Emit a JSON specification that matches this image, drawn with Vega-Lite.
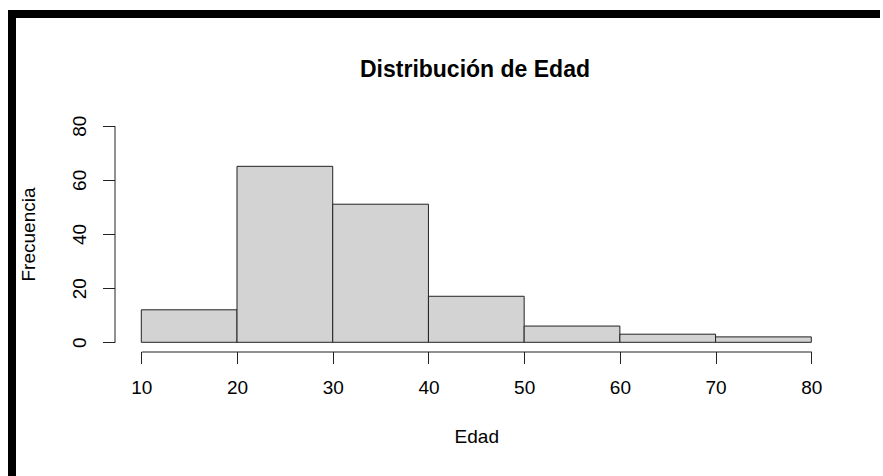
{
  "$schema": "https://vega.github.io/schema/vega-lite/v6.json",
  "autosize": {"type": "none"},
  "padding": {"left": 12, "top": 14, "right": 0, "bottom": 0},
  "width": 871,
  "height": 462,
  "background": "white",
  "title": {
    "text": "Distribución de Edad",
    "font": "Liberation Sans",
    "fontSize": 23,
    "fontWeight": "bold",
    "color": "black",
    "anchor": "middle",
    "offset": 0,
    "dx": 27.5,
    "dy": 68
  },
  "data": {
    "values": [
      {"desde": 10, "hasta": 20, "frecuencia": 12},
      {"desde": 20, "hasta": 30, "frecuencia": 65},
      {"desde": 30, "hasta": 40, "frecuencia": 51},
      {"desde": 40, "hasta": 50, "frecuencia": 17},
      {"desde": 50, "hasta": 60, "frecuencia": 6},
      {"desde": 60, "hasta": 70, "frecuencia": 3},
      {"desde": 70, "hasta": 80, "frecuencia": 2}
    ]
  },
  "mark": {"type": "rect", "fill": "#d3d3d3", "stroke": "#222222", "strokeWidth": 1},
  "encoding": {
    "x": {
      "field": "desde",
      "type": "quantitative",
      "scale": {"domain": [10, 80], "range": [129.3, 799.3], "nice": false, "zero": false},
      "axis": {
        "title": "Edad",
        "values": [10, 20, 30, 40, 50, 60, 70, 80],
        "offset": -124.5,
        "tickSize": 12,
        "labelPadding": 15,
        "titlePadding": 30,
        "labelFlush": false,
        "labelOverlap": false
      }
    },
    "x2": {"field": "hasta"},
    "y": {
      "field": "frecuencia",
      "type": "quantitative",
      "scale": {"domain": [0, 80], "range": [328.3, 111.7], "nice": false, "zero": false},
      "axis": {
        "title": "Frecuencia",
        "values": [0, 20, 40, 60, 80],
        "offset": -102.5,
        "tickSize": 12,
        "labelAngle": 270,
        "labelAlign": "center",
        "labelBaseline": "bottom",
        "labelPadding": 13.5,
        "titlePadding": 32,
        "labelFlush": false,
        "labelOverlap": false
      }
    },
    "y2": {"datum": 0}
  },
  "config": {
    "view": {"stroke": "black", "strokeWidth": 8, "strokeDash": [868, 1336, 462], "strokeCap": "butt"},
    "axis": {
      "grid": false,
      "domainColor": "#222222",
      "domainWidth": 1,
      "tickColor": "#222222",
      "tickWidth": 1,
      "labelFont": "Liberation Sans",
      "labelFontSize": 19,
      "labelColor": "black",
      "titleFont": "Liberation Sans",
      "titleFontSize": 19,
      "titleFontWeight": "normal",
      "titleColor": "black"
    }
  }
}
